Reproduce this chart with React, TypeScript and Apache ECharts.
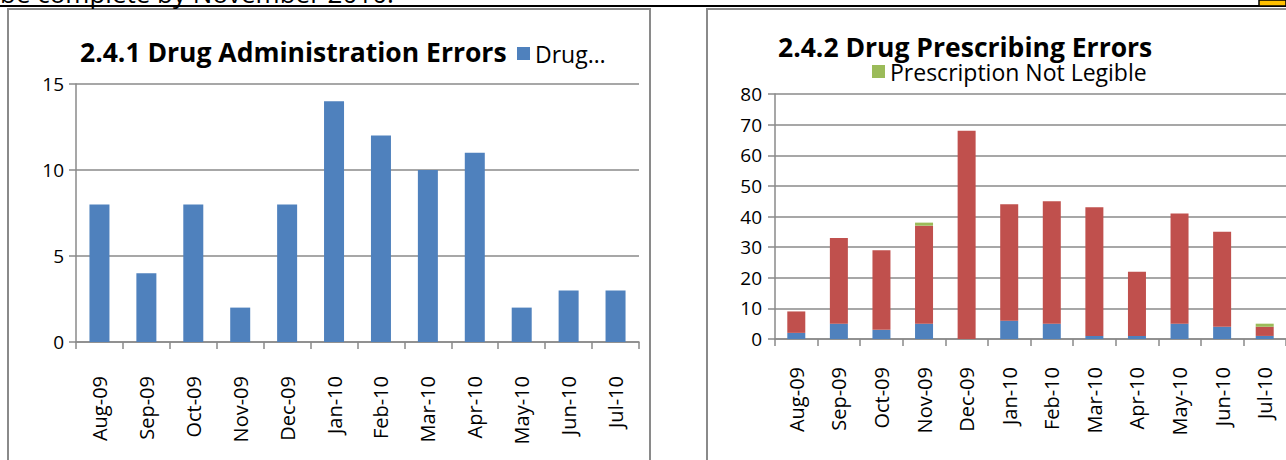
import React, { useEffect, useRef } from "react";
import * as echarts from "echarts";

const months = ["Aug-09", "Sep-09", "Oct-09", "Nov-09", "Dec-09", "Jan-10", "Feb-10", "Mar-10", "Apr-10", "May-10", "Jun-10", "Jul-10"];
const adminErrors = [8, 4, 8, 2, 8, 14, 12, 10, 11, 2, 3, 3];
const prescribingBlue = [2, 5, 3, 5, 0, 6, 5, 1, 1, 5, 4, 1];
const prescribingRed = [7, 28, 26, 32, 68, 38, 40, 42, 21, 36, 31, 3];
const notLegible = [0, 0, 0, 1, 0, 0, 0, 0, 0, 0, 0, 1];
const leftTicks = { min: 0, max: 15, interval: 5 };
const rightTicks = { min: 0, max: 80, interval: 10 };

const FONT = "'Open Sans', Lato, sans-serif";
const GRAY = "#8a8a8a";
const BLUE = "#4F81BD";
const RED = "#C0504D";
const GREEN = "#9BBB59";

export default function App() {
  const ref = useRef<HTMLDivElement>(null);
  useEffect(() => {
    if (!ref.current) return;
    const chart = echarts.init(ref.current, undefined, { renderer: "svg" });
    const xAxisBase = (gridIndex: number, margin: number) => ({
      type: "category",
      gridIndex,
      data: months,
      axisLine: { show: true, lineStyle: { color: GRAY, width: 1.5 } },
      axisTick: { show: true, length: 7, lineStyle: { color: GRAY, width: 1.5 } },
      axisLabel: { rotate: 90, margin, fontSize: 20, color: "#000", fontFamily: FONT },
      splitLine: { show: false },
    });
    const yAxisBase = (gridIndex: number, t: any, fontSize: number, margin: number) => ({
      type: "value",
      gridIndex,
      min: t.min,
      max: t.max,
      interval: t.interval,
      axisLine: { show: true, lineStyle: { color: GRAY, width: 1.5 } },
      axisTick: { show: true, length: 7, lineStyle: { color: GRAY, width: 1.5 } },
      axisLabel: { fontSize, margin, color: "#000", fontFamily: FONT },
      splitLine: { show: true, lineStyle: { color: GRAY, width: 1.5 } },
    });
    chart.setOption({
      animation: false,
      backgroundColor: "#fff",
      textStyle: { fontFamily: FONT },
      title: [
        {
          text: "2.4.1 Drug Administration Errors",
          left: 75,
          top: 33,
          textStyle: { fontSize: 26.5, fontWeight: "bold", color: "#000", fontFamily: FONT },
        },
        {
          text: "2.4.2 Drug Prescribing Errors",
          left: 773,
          top: 28,
          textStyle: { fontSize: 26.5, fontWeight: "bold", color: "#000", fontFamily: FONT },
        },
      ],
      legend: [
        {
          data: ["Drug Administration Errors"],
          left: 512,
          top: 37,
          icon: "rect",
          itemWidth: 13,
          itemHeight: 13,
          itemGap: 5,
          formatter: (n: string) => n.slice(0, 4) + "…",
          textStyle: { fontSize: 23, color: "#000", fontFamily: FONT },
        },
        {
          data: ["Prescription Not Legible"],
          left: 867,
          top: 55,
          icon: "rect",
          itemWidth: 13,
          itemHeight: 13,
          itemGap: 5,
          textStyle: { fontSize: 23, color: "#000", fontFamily: FONT },
        },
      ],
      grid: [
        { left: 76, top: 84, width: 563, height: 258, containLabel: false },
        { left: 775, top: 94, width: 520, height: 245, containLabel: false },
      ],
      xAxis: [xAxisBase(0, 34), xAxisBase(1, 28)],
      yAxis: [yAxisBase(0, leftTicks, 19, 12), yAxisBase(1, rightTicks, 19, 13)],
      series: [
        {
          name: "Drug Administration Errors",
          type: "bar",
          xAxisIndex: 0,
          yAxisIndex: 0,
          data: adminErrors,
          barWidth: 20,
          itemStyle: { color: BLUE },
        },
        {
          name: "Category 1",
          type: "bar",
          stack: "p",
          xAxisIndex: 1,
          yAxisIndex: 1,
          data: prescribingBlue,
          barWidth: 18,
          itemStyle: { color: BLUE },
        },
        {
          name: "Category 2",
          type: "bar",
          stack: "p",
          xAxisIndex: 1,
          yAxisIndex: 1,
          data: prescribingRed,
          barWidth: 18,
          itemStyle: { color: RED },
        },
        {
          name: "Prescription Not Legible",
          type: "bar",
          stack: "p",
          xAxisIndex: 1,
          yAxisIndex: 1,
          data: notLegible,
          barWidth: 18,
          itemStyle: { color: GREEN },
        },
      ],
      graphic: [
        {
          type: "text",
          left: 0,
          top: -20,
          style: { text: "be complete by November 2010.", font: "26px " + FONT, fill: "#000" },
          z: 10,
        },
        { type: "line", shape: { x1: 0, y1: 6, x2: 1286, y2: 6 }, style: { stroke: "#000", lineWidth: 2 }, z: 11 },
        { type: "rect", shape: { x: 1259, y: 0, width: 27, height: 6 }, style: { fill: "#FFC000", stroke: "#000", lineWidth: 1.5 }, z: 11 },
        { type: "rect", shape: { x: 8, y: 9, width: 642, height: 480 }, style: { fill: "none", stroke: GRAY, lineWidth: 2 }, z: 1 },
        { type: "rect", shape: { x: 707, y: 9, width: 640, height: 480 }, style: { fill: "none", stroke: GRAY, lineWidth: 2 }, z: 1 },
      ],
    });
    return () => chart.dispose();
  }, []);
  return (
    <div
      ref={ref}
      style={{ position: "absolute", left: 0, top: 0, width: 1286, height: 460 }}
    />
  );
}
